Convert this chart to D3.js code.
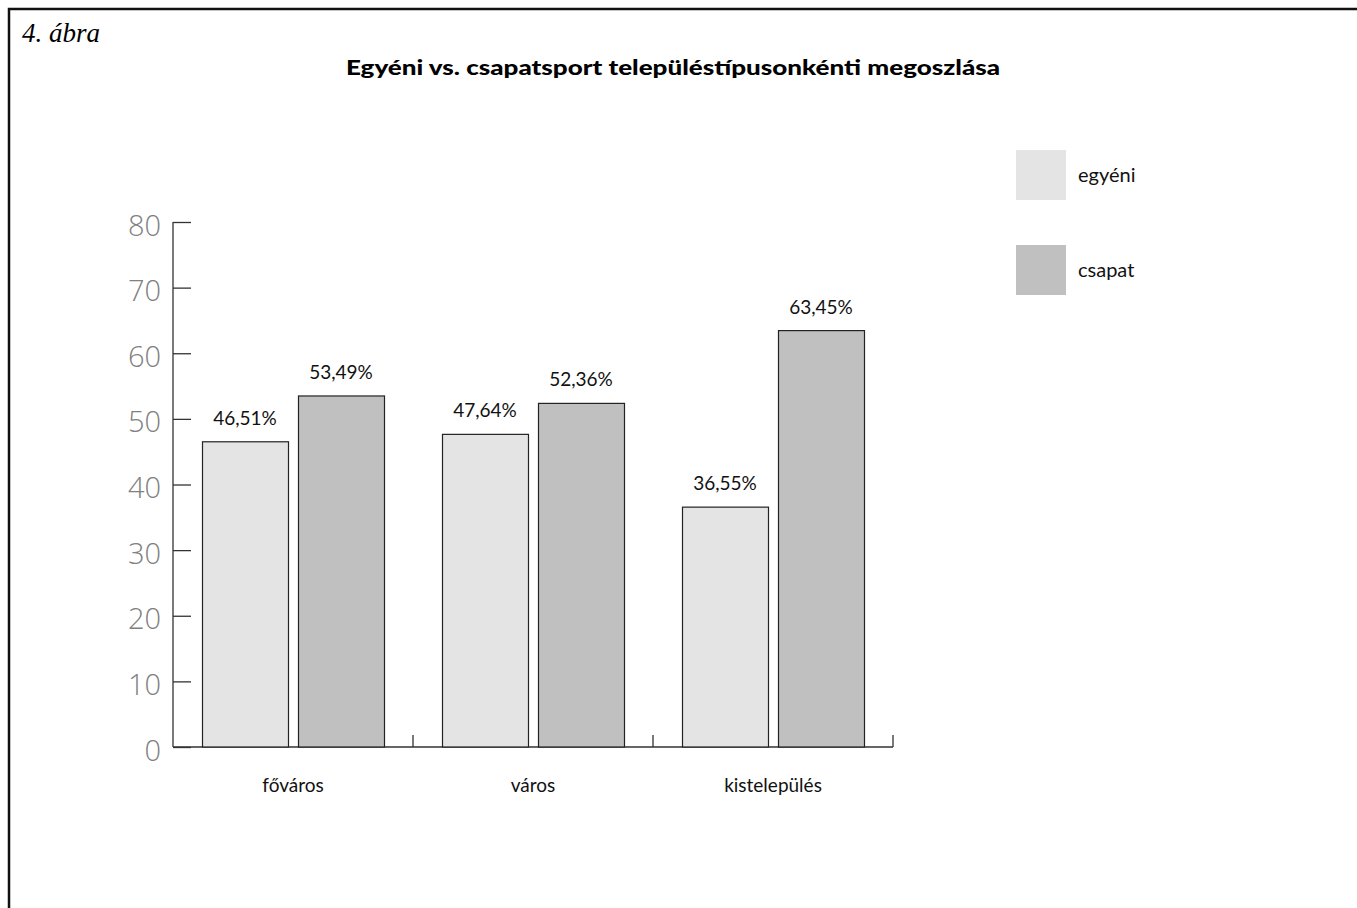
<!DOCTYPE html>
<html>
<head>
<meta charset="utf-8">
<script src="https://cdn.jsdelivr.net/npm/d3@7"></script>
<style>
  html, body { margin: 0; padding: 0; background: #fff; }
  svg { display: block; }
</style>
</head>
<body>
<svg id="chart" width="1357" height="908"></svg>
<script>
// Categories, series and values
const categories = ["főváros", "város", "kistelepülés"];
const seriesNames = ["egyéni", "csapat"];
const egyeni = [46.51, 47.64, 36.55];
const csapat = [53.49, 52.36, 63.45];
const yTicks = [0, 10, 20, 30, 40, 50, 60, 70, 80];
const colors = ["#e4e4e4", "#c0c0c0"];

const fmt = v => d3.format(".2f")(v).replace(".", ",") + "%";

const svg = d3.select("#chart");
const font = "Lato, 'Noto Sans', sans-serif";

// Frame
svg.append("path")
  .attr("d", "M9,908 V9 H1357")
  .attr("fill", "none").attr("stroke", "#111").attr("stroke-width", 2.5);

svg.append("text")
  .attr("x", 22).attr("y", 42)
  .attr("font-family", "'Liberation Serif', 'Times New Roman', serif")
  .attr("font-style", "italic").attr("font-size", 27)
  .text("4. ábra");

svg.append("text")
  .attr("x", 673).attr("y", 75)
  .attr("text-anchor", "middle")
  .attr("font-family", font).attr("font-weight", 900).attr("font-size", 20)
  .attr("textLength", 654).attr("lengthAdjust", "spacingAndGlyphs")
  .text("Egyéni vs. csapatsport településtípusonkénti megoszlása");

// Scales
const x0 = d3.scaleBand().domain(categories).range([173, 893]).paddingInner(0).paddingOuter(0);
const y = d3.scaleLinear().domain([0, 80]).range([747, 222]);

// Y axis
const yAxis = svg.append("g").attr("transform", "translate(173,0)")
  .call(d3.axisRight(y).tickValues(yTicks).tickSize(18).tickFormat(d3.format("d")));
yAxis.select(".domain").attr("stroke", "#333").attr("stroke-width", 1.3)
  .attr("d", `M0,${y(0)}V${y(80)}`);
yAxis.selectAll(".tick line").attr("stroke", "#333").attr("stroke-width", 1.3);
yAxis.selectAll(".tick text")
  .attr("x", -12).attr("text-anchor", "end").attr("dy", "0.45em")
  .attr("fill", "#808080").attr("font-family", "'Open Sans', sans-serif")
  .attr("font-size", 29).attr("font-weight", 300);

// X axis
const xAxis = svg.append("g").attr("transform", `translate(0,${y(0)})`)
  .call(d3.axisBottom(x0).tickSize(0).tickFormat(d => d));
xAxis.select(".domain").attr("stroke", "#333").attr("stroke-width", 1.3)
  .attr("d", `M173,0H893`);
xAxis.selectAll(".tick text")
  .attr("y", 0).attr("dy", 45)
  .attr("fill", "#111").attr("font-family", font).attr("font-size", 19);
// Category separators
const seps = categories.map(c => x0(c) + x0.bandwidth());
svg.append("g").selectAll("line").data(seps).join("line")
  .attr("x1", d => d).attr("x2", d => d)
  .attr("y1", y(0) - 12).attr("y2", y(0))
  .attr("stroke", "#333").attr("stroke-width", 1.3);

// Bars
const x1 = d3.scaleBand().domain(seriesNames).range([29, 211]).paddingInner(10 / 96);
const rows = categories.map((c, i) => ({ cat: c, vals: [egyeni[i], csapat[i]] }));
const groups = svg.append("g").selectAll("g").data(rows).join("g")
  .attr("transform", d => `translate(${x0(d.cat)},0)`);
groups.selectAll("rect").data(d => d.vals.map((v, j) => ({ s: seriesNames[j], v, j }))).join("rect")
  .attr("x", d => x1(d.s) + 0.5).attr("width", x1.bandwidth())
  .attr("y", d => y(d.v)).attr("height", d => y(0) - y(d.v))
  .attr("fill", d => colors[d.j]).attr("stroke", "#222").attr("stroke-width", 1.2);
groups.selectAll("text").data(d => d.vals.map((v, j) => ({ s: seriesNames[j], v, j }))).join("text")
  .attr("x", d => x1(d.s) + x1.bandwidth() / 2)
  .attr("y", d => y(d.v) - 17)
  .attr("text-anchor", "middle")
  .attr("font-family", font).attr("font-size", 19).attr("fill", "#111")
  .text(d => fmt(d.v));

// Legend
const legend = svg.append("g").selectAll("g").data(seriesNames).join("g")
  .attr("transform", (d, i) => `translate(1016,${150 + i * 95})`);
legend.append("rect").attr("width", 50).attr("height", 50).attr("fill", (d, i) => colors[i]);
legend.append("text").attr("x", 62).attr("y", 32)
  .attr("font-family", font).attr("font-size", 20).attr("fill", "#111")
  .text(d => d);
</script>
</body>
</html>
